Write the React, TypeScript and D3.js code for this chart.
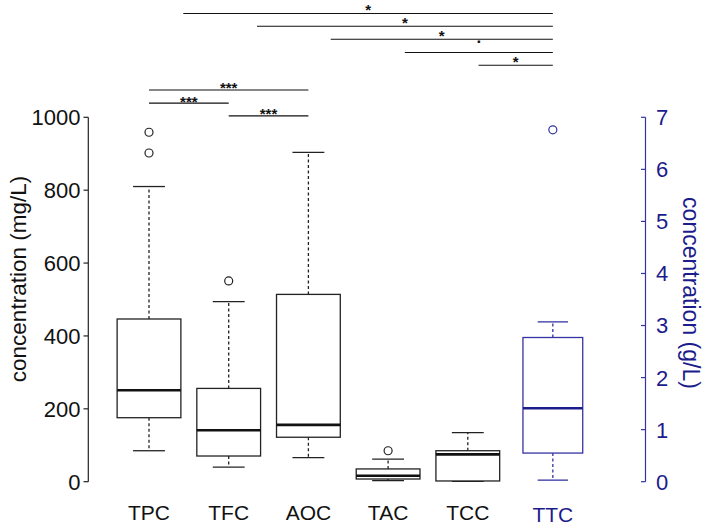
import React from "react";
import * as d3 from "d3";

// ---------- data ----------
const categories = ["TPC", "TFC", "AOC", "TAC", "TCC"];
const positions = [1, 2, 3, 4, 5];
const lowWhisker = [85, 40, 66, 2.7, 1];
const q1 = [175.6, 70.5, 122, 7.4, 2];
const medians = [251, 141, 156, 16.5, 75];
const q3 = [446.5, 256, 514, 35, 85];
const highWhisker = [810, 494, 904, 62, 134.5];
const outliers: number[][] = [[959, 902], [551], [], [85], []];

// TTC on right axis (g/L)
const ttcLabel = "TTC";
const ttcPosition = 6.067;
const ttcStats = { low: 0.03, q1: 0.55, median: 1.41, q3: 2.77, high: 3.07 };
const ttcOutliers = [6.76];

const leftTicks = [0, 200, 400, 600, 800, 1000];
const rightTicks = [0, 1, 2, 3, 4, 5, 6, 7];

// significance brackets: [from position, to position, level (mg/L scale), label]
const sigFrom = [1.43, 2.355, 3.28, 4.21, 5.135, 1, 1, 2];
const sigTo = [6.067, 6.067, 6.067, 6.067, 6.067, 3, 2, 3];
const sigLevel = [1285, 1250, 1214, 1178, 1143, 1075, 1039, 1004];
const sigLabel = ["*", "*", "*", ".", "*", "***", "***", "***"];

// ---------- layout ----------
const W = 709;
const H = 530;
const FONT = "'Liberation Sans', Arial, sans-serif";
const NAVY = "#1c1c8c";
const NAVY_LINE = "#3434a2";
const INK = "#222";

const x = d3.scaleLinear().domain([1, 5]).range([149, 467.8]);
const yL = d3.scaleLinear().domain([0, 1000]).range([481.7, 117.3]);
const yR = d3.scaleLinear().domain([0, 7]).range([481.7, 117.3]);

function Box(props: {
  cx: number; hw: number; cw: number;
  low: number; b1: number; med: number; b3: number; high: number;
  outs: number[]; color: string; medColor: string;
}) {
  const { cx, hw, cw, low, b1, med, b3, high, outs, color, medColor } = props;
  return (
    <g>
      <line x1={cx} x2={cx} y1={b3} y2={high} stroke={color} strokeWidth={1.3} strokeDasharray="3,2.5" />
      <line x1={cx} x2={cx} y1={b1} y2={low} stroke={color} strokeWidth={1.3} strokeDasharray="3,2.5" />
      <line x1={cx - cw} x2={cx + cw} y1={high} y2={high} stroke={color} strokeWidth={1.3} />
      <line x1={cx - cw} x2={cx + cw} y1={low} y2={low} stroke={color} strokeWidth={1.3} />
      <rect x={cx - hw} y={b3} width={hw * 2} height={b1 - b3} fill="white" stroke={color} strokeWidth={1.3} />
      <line x1={cx - hw} x2={cx + hw} y1={med} y2={med} stroke={medColor} strokeWidth={2.6} />
      {outs.map((o, i) => (
        <circle key={i} cx={cx} cy={o} r={4} fill="none" stroke={color} strokeWidth={1.2} />
      ))}
    </g>
  );
}

function labelOffset(lab: string) {
  if (lab === ".") return -9;
  if (lab === "***") return 3.5;
  return 1.5;
}

export default function App() {
  const unit = x(2) - x(1);
  return (
    <svg width={W} height={H} style={{ position: "absolute", left: 0, top: 0, background: "white" }} fontFamily={FONT}>
      {/* significance brackets */}
      {sigLabel.map((lab, i) => {
        const x1 = x(sigFrom[i]);
        const x2 = x(sigTo[i]);
        const yy = yL(sigLevel[i]);
        return (
          <g key={i}>
            <line x1={x1} x2={x2} y1={yy} y2={yy} stroke="#111" strokeWidth={1.1} />
            <text x={(x1 + x2) / 2} y={yy + labelOffset(lab)} textAnchor="middle"
              fontSize={lab === "." ? 17 : 15} fontWeight="bold" fill="#111">
              {lab}
            </text>
          </g>
        );
      })}

      {/* boxes */}
      {categories.map((c, i) => (
        <Box key={c}
          cx={x(positions[i])} hw={unit * 0.4} cw={unit * 0.2}
          low={yL(lowWhisker[i])} b1={yL(q1[i])} med={yL(medians[i])} b3={yL(q3[i])} high={yL(highWhisker[i])}
          outs={outliers[i].map((o) => yL(o))} color={INK} medColor="#111" />
      ))}
      <Box cx={x(ttcPosition)} hw={unit * 0.375} cw={unit * 0.19}
        low={yR(ttcStats.low)} b1={yR(ttcStats.q1)} med={yR(ttcStats.median)} b3={yR(ttcStats.q3)} high={yR(ttcStats.high)}
        outs={ttcOutliers.map((o) => yR(o))} color={NAVY_LINE} medColor={NAVY} />

      {/* left axis */}
      <line x1={88.3} x2={88.3} y1={yL(0)} y2={yL(1000)} stroke={INK} strokeWidth={1.2} />
      {leftTicks.map((t) => (
        <g key={t}>
          <line x1={83.5} x2={88.3} y1={yL(t)} y2={yL(t)} stroke={INK} strokeWidth={1.2} />
          <text x={80.5} y={yL(t)} dy="0.36em" textAnchor="end" fontSize={22} fill="#111">{t}</text>
        </g>
      ))}
      <text transform={`translate(26,279) rotate(-90)`} textAnchor="middle" fontSize={22.5} fill="#111">
        concentration (mg/L)
      </text>

      {/* right axis */}
      <line x1={645.5} x2={645.5} y1={yR(0)} y2={yR(7)} stroke={NAVY_LINE} strokeWidth={1.2} />
      {rightTicks.map((t) => (
        <g key={t}>
          <line x1={641} x2={645.5} y1={yR(t)} y2={yR(t)} stroke={NAVY_LINE} strokeWidth={1.2} />
          <text x={656} y={yR(t)} dy="0.36em" textAnchor="start" fontSize={22} fill={NAVY}>{t}</text>
        </g>
      ))}
      <text transform={`translate(683,293) rotate(90)`} textAnchor="middle" fontSize={23} fill={NAVY}>
        concentration (g/L)
      </text>

      {/* category labels */}
      {categories.map((c, i) => (
        <text key={c} x={x(positions[i])} y={520} textAnchor="middle" fontSize={21} fill="#111">{c}</text>
      ))}
      <text x={x(ttcPosition)} y={521.5} textAnchor="middle" fontSize={21} fill={NAVY}>{ttcLabel}</text>
    </svg>
  );
}
